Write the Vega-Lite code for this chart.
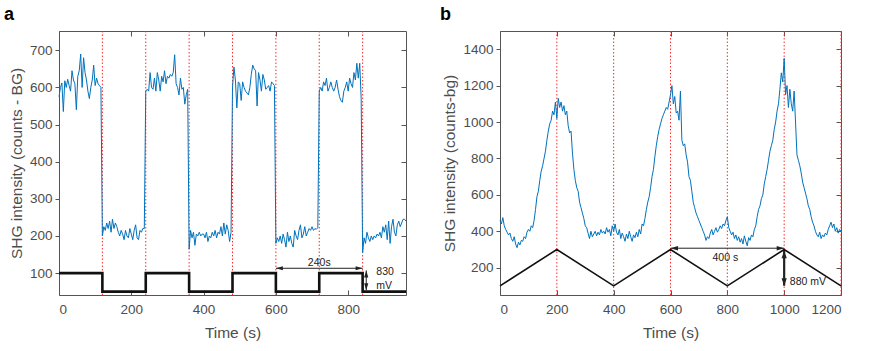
{
  "$schema": "https://vega.github.io/schema/vega-lite/v6.json",
  "padding": {"left": 3, "top": 5, "right": 0, "bottom": 0},
  "bounds": "flush",
  "spacing": 94,
  "config": {
    "font": "Liberation Sans",
    "view": {"stroke": "#555555", "strokeWidth": 1},
    "axis": {"domain": false, "grid": false, "tickColor": "#555555", "labelColor": "#4d4d4d", "labelFontSize": 13.5, "titleColor": "#4d4d4d", "titleFontSize": 15.5, "titleFontWeight": "normal", "format": "d"},
    "axisBottom": {"tickSize": -5, "labelPadding": 12, "titlePadding": 10},
    "axisTop": {"tickSize": -5},
    "axisRight": {"tickSize": -5},
    "axisLeft": {"tickSize": 4, "labelPadding": 3, "titlePadding": 5}
  },
  "datasets": {
    "sa": [
      {"t":0,"v":575},{"t":4,"v":600},{"t":8,"v":612},{"t":12,"v":535},{"t":16,"v":618},{"t":20,"v":600},{"t":24,"v":622},{"t":28,"v":605},{"t":32,"v":590},{"t":36,"v":645},{"t":40,"v":620},{"t":44,"v":610},{"t":48,"v":540},{"t":52,"v":630},{"t":56,"v":645},{"t":60,"v":690},{"t":64,"v":600},{"t":68,"v":680},{"t":72,"v":640},{"t":76,"v":620},{"t":80,"v":590},{"t":84,"v":570},{"t":88,"v":600},{"t":92,"v":620},{"t":96,"v":660},{"t":100,"v":605},{"t":104,"v":625},{"t":108,"v":610},{"t":112,"v":605},{"t":116,"v":600},
      {"t":120,"v":200},{"t":124,"v":225},{"t":128,"v":215},{"t":132,"v":235},{"t":136,"v":220},{"t":140,"v":240},{"t":144,"v":210},{"t":148,"v":245},{"t":152,"v":220},{"t":156,"v":235},{"t":160,"v":225},{"t":164,"v":210},{"t":168,"v":200},{"t":172,"v":215},{"t":176,"v":205},{"t":180,"v":190},{"t":184,"v":215},{"t":188,"v":200},{"t":192,"v":195},{"t":196,"v":220},{"t":200,"v":205},{"t":204,"v":190},{"t":208,"v":215},{"t":212,"v":230},{"t":216,"v":195},{"t":220,"v":190},{"t":224,"v":215},{"t":228,"v":210},{"t":232,"v":220},{"t":236,"v":220},
      {"t":240,"v":590},{"t":244,"v":595},{"t":248,"v":590},{"t":252,"v":640},{"t":256,"v":600},{"t":260,"v":595},{"t":264,"v":625},{"t":268,"v":590},{"t":272,"v":640},{"t":276,"v":620},{"t":280,"v":590},{"t":284,"v":630},{"t":288,"v":615},{"t":292,"v":645},{"t":296,"v":610},{"t":300,"v":630},{"t":304,"v":625},{"t":308,"v":635},{"t":312,"v":630},{"t":316,"v":640},{"t":320,"v":688},{"t":324,"v":610},{"t":328,"v":600},{"t":332,"v":580},{"t":336,"v":625},{"t":340,"v":595},{"t":344,"v":600},{"t":348,"v":555},{"t":352,"v":580},{"t":356,"v":595},
      {"t":360,"v":165},{"t":364,"v":215},{"t":368,"v":195},{"t":372,"v":210},{"t":376,"v":175},{"t":380,"v":205},{"t":384,"v":200},{"t":388,"v":210},{"t":392,"v":200},{"t":396,"v":205},{"t":400,"v":205},{"t":404,"v":195},{"t":408,"v":210},{"t":412,"v":185},{"t":416,"v":200},{"t":420,"v":195},{"t":424,"v":210},{"t":428,"v":200},{"t":432,"v":215},{"t":436,"v":195},{"t":440,"v":210},{"t":444,"v":205},{"t":448,"v":225},{"t":452,"v":200},{"t":456,"v":235},{"t":460,"v":205},{"t":464,"v":230},{"t":468,"v":215},{"t":472,"v":185},{"t":476,"v":210},
      {"t":480,"v":600},{"t":484,"v":655},{"t":488,"v":620},{"t":492,"v":545},{"t":496,"v":615},{"t":500,"v":610},{"t":504,"v":565},{"t":508,"v":615},{"t":512,"v":600},{"t":516,"v":590},{"t":520,"v":585},{"t":524,"v":580},{"t":528,"v":600},{"t":532,"v":635},{"t":536,"v":660},{"t":540,"v":650},{"t":544,"v":645},{"t":548,"v":550},{"t":552,"v":640},{"t":556,"v":620},{"t":560,"v":590},{"t":564,"v":635},{"t":568,"v":620},{"t":572,"v":595},{"t":576,"v":600},{"t":580,"v":605},{"t":584,"v":590},{"t":588,"v":615},{"t":592,"v":610},{"t":596,"v":605},
      {"t":600,"v":180},{"t":604,"v":195},{"t":608,"v":185},{"t":612,"v":200},{"t":616,"v":180},{"t":620,"v":205},{"t":624,"v":190},{"t":628,"v":170},{"t":632,"v":210},{"t":636,"v":185},{"t":640,"v":200},{"t":644,"v":180},{"t":648,"v":170},{"t":652,"v":215},{"t":656,"v":200},{"t":660,"v":190},{"t":664,"v":215},{"t":668,"v":230},{"t":672,"v":195},{"t":676,"v":205},{"t":680,"v":225},{"t":684,"v":200},{"t":688,"v":210},{"t":692,"v":220},{"t":696,"v":215},{"t":700,"v":225},{"t":704,"v":215},{"t":708,"v":220},{"t":712,"v":218},{"t":716,"v":222},
      {"t":720,"v":590},{"t":724,"v":600},{"t":728,"v":590},{"t":732,"v":615},{"t":736,"v":605},{"t":740,"v":625},{"t":744,"v":590},{"t":748,"v":600},{"t":752,"v":615},{"t":756,"v":600},{"t":760,"v":590},{"t":764,"v":600},{"t":768,"v":620},{"t":772,"v":595},{"t":776,"v":575},{"t":780,"v":565},{"t":784,"v":560},{"t":788,"v":590},{"t":792,"v":600},{"t":796,"v":615},{"t":800,"v":590},{"t":804,"v":625},{"t":808,"v":610},{"t":812,"v":600},{"t":816,"v":640},{"t":820,"v":620},{"t":824,"v":665},{"t":828,"v":625},{"t":832,"v":665},{"t":836,"v":570},
      {"t":840,"v":155},{"t":844,"v":195},{"t":848,"v":180},{"t":852,"v":210},{"t":856,"v":195},{"t":860,"v":185},{"t":864,"v":200},{"t":868,"v":190},{"t":872,"v":200},{"t":876,"v":195},{"t":880,"v":205},{"t":884,"v":200},{"t":888,"v":210},{"t":892,"v":195},{"t":896,"v":225},{"t":900,"v":210},{"t":904,"v":230},{"t":908,"v":190},{"t":912,"v":240},{"t":916,"v":180},{"t":920,"v":225},{"t":924,"v":245},{"t":928,"v":210},{"t":932,"v":200},{"t":936,"v":230},{"t":940,"v":240},{"t":944,"v":225},{"t":948,"v":235},{"t":952,"v":245},{"t":956,"v":245},{"t":960,"v":240}
    ],
    "da": [
      {"t":0,"v":100},{"t":120,"v":50},{"t":240,"v":100},{"t":360,"v":50},{"t":480,"v":100},{"t":600,"v":50},{"t":720,"v":100},{"t":840,"v":50},{"t":960,"v":50}
    ],
    "ma": [{"t":120},{"t":240},{"t":360},{"t":480},{"t":600},{"t":720},{"t":840}],
    "ra": [
      {"x":600,"x2":840,"y":113,"y2":113},
      {"x":850,"x2":850,"y":107,"y2":54}
    ],
    "ha": [
      {"x":600,"y":113,"s":"M0,0L2,-0.6L2,0.6Z"},
      {"x":840,"y":113,"s":"M0,0L-2,-0.6L-2,0.6Z"},
      {"x":850,"y":107,"s":"M0,0L-0.6,2L0.6,2Z"},
      {"x":850,"y":54,"s":"M0,0L-0.6,-2L0.6,-2Z"}
    ],
    "tac": [
      {"x":720,"y":128,"label":"240s"}
    ],
    "tal": [
      {"x":878,"y":104,"label":"830"},
      {"x":878,"y":66,"label":"mV"}
    ],
    "sb": [
      {"t":0,"v":460},{"t":5,"v":440},{"t":10,"v":475},{"t":15,"v":430},{"t":20,"v":410},{"t":25,"v":395},{"t":30,"v":380},{"t":35,"v":390},{"t":40,"v":360},{"t":45,"v":345},{"t":50,"v":370},{"t":55,"v":330},{"t":60,"v":310},{"t":65,"v":340},{"t":70,"v":325},{"t":75,"v":350},{"t":80,"v":345},{"t":85,"v":370},{"t":90,"v":360},{"t":95,"v":395},{"t":100,"v":410},{"t":105,"v":400},{"t":110,"v":430},{"t":115,"v":420},{"t":120,"v":460},{"t":125,"v":520},{"t":130,"v":590},{"t":135,"v":620},{"t":140,"v":680},{"t":145,"v":730},{"t":150,"v":760},{"t":155,"v":800},{"t":160,"v":840},{"t":165,"v":900},{"t":170,"v":950},{"t":175,"v":990},{"t":180,"v":1010},{"t":185,"v":1060},{"t":190,"v":1040},{"t":195,"v":1110},{"t":200,"v":1020},{"t":205,"v":1130},{"t":210,"v":1080},{"t":215,"v":1110},{"t":220,"v":1060},{"t":225,"v":1090},{"t":230,"v":1040},{"t":235,"v":1060},{"t":240,"v":980},{"t":245,"v":940},{"t":250,"v":950},{"t":255,"v":830},{"t":260,"v":740},{"t":265,"v":680},{"t":270,"v":640},{"t":275,"v":620},{"t":280,"v":560},{"t":285,"v":530},{"t":290,"v":500},{"t":295,"v":470},{"t":300,"v":430},{"t":305,"v":420},{"t":310,"v":390},{"t":315,"v":360},{"t":320,"v":400},{"t":325,"v":370},{"t":330,"v":385},{"t":335,"v":400},{"t":340,"v":375},{"t":345,"v":395},{"t":350,"v":380},{"t":355,"v":410},{"t":360,"v":390},{"t":365,"v":400},{"t":370,"v":385},{"t":375,"v":420},{"t":380,"v":395},{"t":385,"v":410},{"t":390,"v":375},{"t":395,"v":430},{"t":400,"v":400},{"t":405,"v":440},{"t":410,"v":395},{"t":415,"v":380},{"t":420,"v":410},{"t":425,"v":360},{"t":430,"v":390},{"t":435,"v":370},{"t":440,"v":345},{"t":445,"v":385},{"t":450,"v":360},{"t":455,"v":400},{"t":460,"v":370},{"t":465,"v":345},{"t":470,"v":380},{"t":475,"v":365},{"t":480,"v":395},{"t":485,"v":370},{"t":490,"v":410},{"t":495,"v":385},{"t":500,"v":440},{"t":505,"v":430},{"t":510,"v":470},{"t":515,"v":520},{"t":520,"v":560},{"t":525,"v":590},{"t":530,"v":640},{"t":535,"v":700},{"t":540,"v":740},{"t":545,"v":810},{"t":550,"v":870},{"t":555,"v":920},{"t":560,"v":960},{"t":565,"v":990},{"t":570,"v":1020},{"t":575,"v":1040},{"t":580,"v":1060},{"t":585,"v":1080},{"t":590,"v":1070},{"t":595,"v":1110},{"t":600,"v":1150},{"t":605,"v":1200},{"t":610,"v":1100},{"t":615,"v":1140},{"t":620,"v":1050},{"t":625,"v":1060},{"t":630,"v":1010},{"t":635,"v":1170},{"t":640,"v":900},{"t":645,"v":870},{"t":650,"v":880},{"t":655,"v":820},{"t":660,"v":780},{"t":665,"v":700},{"t":670,"v":680},{"t":675,"v":620},{"t":680,"v":560},{"t":685,"v":530},{"t":690,"v":500},{"t":695,"v":480},{"t":700,"v":460},{"t":705,"v":440},{"t":710,"v":420},{"t":715,"v":400},{"t":720,"v":380},{"t":725,"v":350},{"t":730,"v":370},{"t":735,"v":360},{"t":740,"v":390},{"t":745,"v":410},{"t":750,"v":380},{"t":755,"v":400},{"t":760,"v":420},{"t":765,"v":395},{"t":770,"v":410},{"t":775,"v":430},{"t":780,"v":415},{"t":785,"v":440},{"t":790,"v":430},{"t":795,"v":460},{"t":800,"v":480},{"t":805,"v":420},{"t":810,"v":400},{"t":815,"v":380},{"t":820,"v":395},{"t":825,"v":360},{"t":830,"v":380},{"t":835,"v":350},{"t":840,"v":370},{"t":845,"v":340},{"t":850,"v":360},{"t":855,"v":330},{"t":860,"v":375},{"t":865,"v":345},{"t":870,"v":320},{"t":875,"v":365},{"t":880,"v":350},{"t":885,"v":380},{"t":890,"v":370},{"t":895,"v":410},{"t":900,"v":430},{"t":905,"v":480},{"t":910,"v":520},{"t":915,"v":540},{"t":920,"v":580},{"t":925,"v":600},{"t":930,"v":660},{"t":935,"v":700},{"t":940,"v":740},{"t":945,"v":790},{"t":950,"v":840},{"t":955,"v":870},{"t":960,"v":900},{"t":965,"v":960},{"t":970,"v":1000},{"t":975,"v":1060},{"t":980,"v":1100},{"t":985,"v":1180},{"t":990,"v":1270},{"t":995,"v":1220},{"t":1000,"v":1350},{"t":1005,"v":1150},{"t":1010,"v":1200},{"t":1015,"v":1080},{"t":1020,"v":1180},{"t":1025,"v":1100},{"t":1030,"v":1060},{"t":1035,"v":1170},{"t":1040,"v":1000},{"t":1045,"v":820},{"t":1050,"v":790},{"t":1055,"v":760},{"t":1060,"v":720},{"t":1065,"v":670},{"t":1070,"v":640},{"t":1075,"v":610},{"t":1080,"v":580},{"t":1085,"v":540},{"t":1090,"v":520},{"t":1095,"v":480},{"t":1100,"v":450},{"t":1105,"v":430},{"t":1110,"v":400},{"t":1115,"v":380},{"t":1120,"v":370},{"t":1125,"v":395},{"t":1130,"v":360},{"t":1135,"v":380},{"t":1140,"v":370},{"t":1145,"v":390},{"t":1150,"v":380},{"t":1155,"v":410},{"t":1160,"v":430},{"t":1165,"v":450},{"t":1170,"v":420},{"t":1175,"v":440},{"t":1180,"v":400},{"t":1185,"v":420},{"t":1190,"v":390},{"t":1195,"v":410},{"t":1200,"v":400}
    ],
    "db": [
      {"t":0,"v":100},{"t":200,"v":300},{"t":400,"v":100},{"t":600,"v":300},{"t":800,"v":100},{"t":1000,"v":300},{"t":1200,"v":100}
    ],
    "mb": [{"t":200},{"t":400},{"t":600},{"t":800},{"t":1000},{"t":1200}],
    "rb": [
      {"x":600,"x2":1000,"y":307,"y2":307}
    ],
    "rb2": [
      {"x":1000,"x2":1000,"y":293,"y2":101}
    ],
    "hb": [
      {"x":600,"y":307,"s":"M0,0L2,-0.6L2,0.6Z"},
      {"x":1000,"y":307,"s":"M0,0L-2,-0.6L-2,0.6Z"},
      {"x":1000,"y":293,"s":"M0,0L-0.7,2L0.7,2Z"},
      {"x":1000,"y":101,"s":"M0,0L-0.7,-2L0.7,-2Z"}
    ],
    "tbc": [
      {"x":793,"y":253,"label":"400 s"}
    ],
    "tbl": [
      {"x":1020,"y":123,"label":"880 mV"}
    ]
  },
  "hconcat": [
    {
      "width": 347,
      "height": 264,
      "title": {"text": "a", "anchor": "start", "frame": "group", "dx": -55, "offset": 7, "fontSize": 18, "fontWeight": "bold", "color": "#000000"},
      "layer": [
        {
          "data": {"name": "ma"},
          "mark": {"type": "rule", "color": "#ff2a2a", "strokeDash": [1.5, 2], "strokeWidth": 1},
          "encoding": {
            "x": {"field": "t", "type": "quantitative", "scale": {"domain": [0, 960], "nice": false}, "axis": {"orient": "top", "labels": false, "title": null, "values": [0, 200, 400, 600, 800]}}
          }
        },
        {
          "data": {"name": "sa"},
          "mark": {"type": "line", "color": "#0072BD", "strokeWidth": 1},
          "encoding": {
            "x": {"field": "t", "type": "quantitative", "scale": {"domain": [0, 960], "nice": false}, "axis": {"title": "Time (s)", "values": [0, 200, 400, 600, 800]}},
            "y": {"field": "v", "type": "quantitative", "scale": {"domain": [41, 752], "nice": false}, "axis": {"title": "SHG intensity (counts - BG)", "values": [100, 200, 300, 400, 500, 600, 700]}}
          }
        },
        {
          "data": {"name": "da"},
          "mark": {"type": "line", "color": "#111111", "strokeWidth": 2.6, "interpolate": "step-after"},
          "encoding": {
            "x": {"field": "t", "type": "quantitative", "scale": {"domain": [0, 960], "nice": false}, "axis": null},
            "y": {"field": "v", "type": "quantitative", "scale": {"domain": [41, 752], "nice": false}, "axis": {"orient": "right", "labels": false, "title": null, "values": [100, 200, 300, 400, 500, 600, 700]}}
          }
        },
        {
          "data": {"name": "ra"},
          "mark": {"type": "rule", "color": "#222222", "strokeWidth": 1},
          "encoding": {
            "x": {"field": "x", "type": "quantitative", "scale": {"domain": [0, 960], "nice": false}, "axis": null},
            "x2": {"field": "x2"},
            "y": {"field": "y", "type": "quantitative", "scale": {"domain": [41, 752], "nice": false}, "axis": null},
            "y2": {"field": "y2"}
          }
        },
        {
          "data": {"name": "ha"},
          "mark": {"type": "point", "filled": true, "color": "#222222", "opacity": 1, "size": 49},
          "encoding": {
            "x": {"field": "x", "type": "quantitative", "scale": {"domain": [0, 960], "nice": false}, "axis": null},
            "y": {"field": "y", "type": "quantitative", "scale": {"domain": [41, 752], "nice": false}, "axis": null},
            "shape": {"field": "s", "type": "nominal", "scale": null}
          }
        },
        {
          "data": {"name": "tac"},
          "mark": {"type": "text", "fontSize": 10.5, "color": "#222222", "baseline": "middle", "align": "center"},
          "encoding": {
            "x": {"field": "x", "type": "quantitative", "scale": {"domain": [0, 960], "nice": false}, "axis": null},
            "y": {"field": "y", "type": "quantitative", "scale": {"domain": [41, 752], "nice": false}, "axis": null},
            "text": {"field": "label"}
          }
        },
        {
          "data": {"name": "tal"},
          "mark": {"type": "text", "fontSize": 10.5, "color": "#222222", "baseline": "middle", "align": "left"},
          "encoding": {
            "x": {"field": "x", "type": "quantitative", "scale": {"domain": [0, 960], "nice": false}, "axis": null},
            "y": {"field": "y", "type": "quantitative", "scale": {"domain": [41, 752], "nice": false}, "axis": null},
            "text": {"field": "label"}
          }
        }
      ],
      "resolve": {"axis": {"x": "independent", "y": "independent"}}
    },
    {
      "width": 341,
      "height": 264,
      "title": {"text": "b", "anchor": "start", "frame": "group", "dx": -60, "offset": 7, "fontSize": 18, "fontWeight": "bold", "color": "#000000"},
      "layer": [
        {
          "data": {"name": "mb"},
          "mark": {"type": "rule", "color": "#ff2a2a", "strokeDash": [1.5, 2], "strokeWidth": 1},
          "encoding": {
            "x": {"field": "t", "type": "quantitative", "scale": {"domain": [0, 1200], "nice": false}, "axis": {"orient": "top", "labels": false, "title": null, "values": [0, 200, 400, 600, 800, 1000, 1200]}}
          }
        },
        {
          "data": {"name": "sb"},
          "mark": {"type": "line", "color": "#0072BD", "strokeWidth": 1},
          "encoding": {
            "x": {"field": "t", "type": "quantitative", "scale": {"domain": [0, 1200], "nice": false}, "axis": {"title": "Time (s)", "values": [0, 200, 400, 600, 800, 1000, 1200]}},
            "y": {"field": "v", "type": "quantitative", "scale": {"domain": [50, 1500], "nice": false}, "axis": {"title": "SHG intensity (counts-bg)", "values": [200, 400, 600, 800, 1000, 1200, 1400]}}
          }
        },
        {
          "data": {"name": "db"},
          "mark": {"type": "line", "color": "#111111", "strokeWidth": 1.6},
          "encoding": {
            "x": {"field": "t", "type": "quantitative", "scale": {"domain": [0, 1200], "nice": false}, "axis": null},
            "y": {"field": "v", "type": "quantitative", "scale": {"domain": [50, 1500], "nice": false}, "axis": {"orient": "right", "labels": false, "title": null, "values": [200, 400, 600, 800, 1000, 1200, 1400]}}
          }
        },
        {
          "data": {"name": "rb"},
          "mark": {"type": "rule", "color": "#222222", "strokeWidth": 1},
          "encoding": {
            "x": {"field": "x", "type": "quantitative", "scale": {"domain": [0, 1200], "nice": false}, "axis": null},
            "x2": {"field": "x2"},
            "y": {"field": "y", "type": "quantitative", "scale": {"domain": [50, 1500], "nice": false}, "axis": null},
            "y2": {"field": "y2"}
          }
        },
        {
          "data": {"name": "rb2"},
          "mark": {"type": "rule", "color": "#222222", "strokeWidth": 2.2},
          "encoding": {
            "x": {"field": "x", "type": "quantitative", "scale": {"domain": [0, 1200], "nice": false}, "axis": null},
            "x2": {"field": "x2"},
            "y": {"field": "y", "type": "quantitative", "scale": {"domain": [50, 1500], "nice": false}, "axis": null},
            "y2": {"field": "y2"}
          }
        },
        {
          "data": {"name": "hb"},
          "mark": {"type": "point", "filled": true, "color": "#222222", "opacity": 1, "size": 56},
          "encoding": {
            "x": {"field": "x", "type": "quantitative", "scale": {"domain": [0, 1200], "nice": false}, "axis": null},
            "y": {"field": "y", "type": "quantitative", "scale": {"domain": [50, 1500], "nice": false}, "axis": null},
            "shape": {"field": "s", "type": "nominal", "scale": null}
          }
        },
        {
          "data": {"name": "tbc"},
          "mark": {"type": "text", "fontSize": 10.5, "color": "#222222", "baseline": "middle", "align": "center"},
          "encoding": {
            "x": {"field": "x", "type": "quantitative", "scale": {"domain": [0, 1200], "nice": false}, "axis": null},
            "y": {"field": "y", "type": "quantitative", "scale": {"domain": [50, 1500], "nice": false}, "axis": null},
            "text": {"field": "label"}
          }
        },
        {
          "data": {"name": "tbl"},
          "mark": {"type": "text", "fontSize": 10.5, "color": "#222222", "baseline": "middle", "align": "left"},
          "encoding": {
            "x": {"field": "x", "type": "quantitative", "scale": {"domain": [0, 1200], "nice": false}, "axis": null},
            "y": {"field": "y", "type": "quantitative", "scale": {"domain": [50, 1500], "nice": false}, "axis": null},
            "text": {"field": "label"}
          }
        }
      ],
      "resolve": {"axis": {"x": "independent", "y": "independent"}}
    }
  ]
}
